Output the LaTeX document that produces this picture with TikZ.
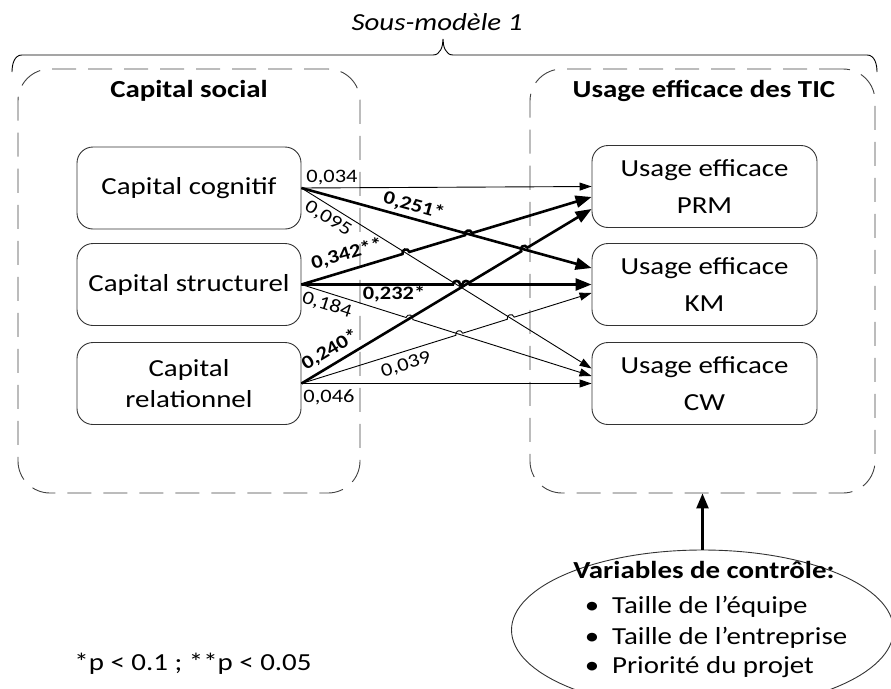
\documentclass[tikz,border=0pt]{standalone}
\usepackage{fontspec}
\setmainfont{Carlito}[FakeStretch=1.18]
\usetikzlibrary{arrows.meta,shapes.geometric,calc,intersections}
\newcommand\mkhop[3]{%
  \coordinate (#1a) at ($(#1)!3.6pt!(#2)$);
  \coordinate (#1b) at ($(#1)!3.6pt!(#3)$);
  \coordinate (#1c) at ($(#1a)!4.8pt!90:(#1)$);
  \coordinate (#1d) at ($(#1b)!4.8pt!-90:(#1)$);
}
\begin{document}
\begin{tikzpicture}[x=1pt,y=1pt,
  txt/.style={font=\fontsize{24.5}{29}\selectfont, inner sep=0pt},
  tbold/.style={font=\fontsize{24.5}{29}\selectfont\bfseries, inner sep=0pt},
  box/.style={draw=black!80, line width=0.9pt, rounded corners=16pt, minimum height=82pt,
              inner sep=0pt, align=center, font=\fontsize{24.5}{29}\selectfont},
  dbox/.style={draw=black!75, line width=0.9pt, dash pattern=on 24pt off 12pt,
               rounded corners=32pt, inner sep=0pt},
  lab/.style={font=\fontsize{19}{19}\selectfont, inner sep=0pt},
  blab/.style={font=\fontsize{19}{19}\selectfont\bfseries, inner sep=0pt},
  thinarr/.style={line width=0.9pt, -{Triangle[length=12pt,width=8pt]}},
  thickarr/.style={line width=2.6pt, -{Triangle[length=16pt,width=12pt]}},
]
\useasboundingbox (0,0) rectangle (891,-688);
\clip (0,0) rectangle (891,-688);

% containers
\node[dbox, minimum width=342pt, minimum height=424pt] (csbox) at (189,-281) {};
\node[dbox, minimum width=345pt, minimum height=424pt] (ucbox) at (702.5,-281) {};

% brace and titles
\draw[line width=0.9pt] (12,-72) to[out=90,in=180] (22,-55) -- (433,-55)
  to[out=0,in=-90] (443,-39) to[out=-90,in=180] (453,-55) -- (867,-55)
  to[out=0,in=90] (877,-72);
\node[txt, font=\fontsize{24.5}{29}\selectfont\itshape, anchor=base] (smtitle) at (437,-30) {Sous-modèle 1};
\node[tbold, anchor=base] (cstitle) at (189,-97) {Capital social};
\node[tbold, anchor=base] (uctitle) at (704,-97) {Usage efficace des TIC};

% left boxes
\node[box, minimum width=224pt] (cog) at (189,-188) {Capital cognitif};
\node[box, minimum width=224pt] (str) at (189,-284.5) {Capital structurel};
\node[box, minimum width=224pt, font=\fontsize{24.5}{31}\selectfont] (rel) at (189,-383.5) {Capital\\relationnel};

% right boxes
\node[box, minimum width=225pt, font=\fontsize{24.5}{37}\selectfont] (prm) at (704.5,-186.5) {Usage efficace\\PRM};
\node[box, minimum width=225pt, font=\fontsize{24.5}{37}\selectfont] (km) at (704.5,-284.5) {Usage efficace\\KM};
\node[box, minimum width=225pt, font=\fontsize{24.5}{37}\selectfont] (cw) at (704.5,-383.5) {Usage efficace\\CW};

% arrow targets
\coordinate (t1) at (prm.west);
\coordinate (t4) at ([yshift=-10.5pt]prm.west);
\coordinate (t7) at ([yshift=-22.5pt]prm.west);
\coordinate (t2) at ([yshift=16.5pt]km.west);
\coordinate (t5) at (km.west);
\coordinate (t8) at ([yshift=-8.5pt]km.west);
\coordinate (t3) at ([yshift=15pt]cw.west);
\coordinate (t6) at ([yshift=7.5pt]cw.west);
\coordinate (t9) at (cw.west);

% geometry for line hops
\path[name path=p2] (cog.east) -- (t2);
\path[name path=p3] (cog.east) -- (t3);
\path[name path=p4] (str.east) -- (t4);
\path[name path=p5] (str.east) -- (t5);
\path[name path=p6] (str.east) -- (t6);
\path[name path=p7] (rel.east) -- (t7);
\path[name path=p8] (rel.east) -- (t8);
\path[name intersections={of=p4 and p3, by=x43}];
\path[name intersections={of=p4 and p2, by=x42}];
\path[name intersections={of=p5 and p3, by=x53}];
\path[name intersections={of=p5 and p7, by=x57}];
\path[name intersections={of=p6 and p7, by=x67}];
\path[name intersections={of=p7 and p2, by=x72}];
\path[name intersections={of=p8 and p6, by=x86}];
\path[name intersections={of=p8 and p3, by=x83}];
\mkhop{x43}{str.east}{t4}
\mkhop{x42}{str.east}{t4}
\mkhop{x53}{str.east}{t5}
\mkhop{x57}{str.east}{t5}
\mkhop{x67}{str.east}{t6}
\mkhop{x72}{rel.east}{t7}
\mkhop{x86}{rel.east}{t8}
\mkhop{x83}{rel.east}{t8}

% connectors
\draw[thinarr] (cog.east) -- (t1);
\draw[thickarr] (cog.east) -- (t2);
\draw[thinarr] (cog.east) -- (t3);
\draw[thickarr] (str.east) -- (x43a) .. controls (x43c) and (x43d) .. (x43b)
  -- (x42a) .. controls (x42c) and (x42d) .. (x42b) -- (t4);
\draw[thickarr] (str.east) -- (x53a) .. controls (x53c) and (x53d) .. (x53b)
  -- (x57a) .. controls (x57c) and (x57d) .. (x57b) -- (t5);
\draw[thinarr] (str.east) -- (x67a) .. controls (x67c) and (x67d) .. (x67b) -- (t6);
\draw[thickarr] (rel.east) -- (x72a) .. controls (x72c) and (x72d) .. (x72b) -- (t7);
\draw[thinarr] (rel.east) -- (x86a) .. controls (x86c) and (x86d) .. (x86b)
  -- (x83a) .. controls (x83c) and (x83d) .. (x83b) -- (t8);
\draw[thinarr] (rel.east) -- (t9);

% coefficient labels
\node[lab] (v1) at (332,-178) {0,034};
\node[blab, rotate=-15.5] (v2) at (414,-206) {0,251*};
\node[lab, rotate=-31.4] (v3) at (328,-219) {0,095};
\node[blab, rotate=16.4] (v4) at (347,-254) {0,342**};
\node[blab] (v5) at (394,-294) {0,232*};
\node[lab, rotate=-17.7] (v6) at (327,-305) {0,184};
\node[blab, rotate=31.1] (v7) at (330,-350) {0,240*};
\node[lab, rotate=17.1] (v8) at (406,-365) {0,039};
\node[lab] (v9) at (329,-397) {0,046};

% control variables
\node[draw=black!80, line width=0.9pt, ellipse, minimum width=382pt, minimum height=160pt, inner sep=0pt] (ctrl) at (702.5,-630) {};
\draw[line width=2.4pt, -{Triangle[length=15pt,width=12pt]}] (ctrl.north) -- (ucbox.south);
\node[tbold, anchor=base] (ctitle) at (704,-578) {Variables de contrôle:};
\node[txt, anchor=base] (b1) at (592,-613) {•};
\node[txt, anchor=base] (b2) at (592,-644) {•};
\node[txt, anchor=base] (b3) at (592,-673) {•};
\node[txt, anchor=base west] (c1) at (612,-613) {Taille de l’équipe};
\node[txt, anchor=base west] (c2) at (612,-644) {Taille de l’entreprise};
\node[txt, anchor=base west] (c3) at (612,-673) {Priorité du projet};

% note
\node[txt, anchor=base] (note) at (193,-670) {*p < 0.1 ; **p < 0.05};
\end{tikzpicture}
\end{document}
